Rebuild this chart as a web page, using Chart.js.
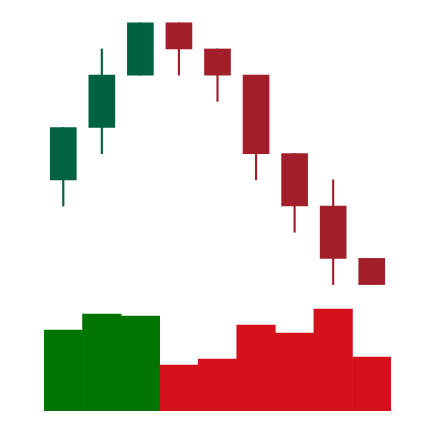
<!DOCTYPE html>
<html>
<head>
<meta charset="utf-8">
<script src="https://cdn.jsdelivr.net/npm/chart.js@4"></script>
<style>
  html, body { margin: 0; padding: 0; background: #ffffff; }
  #wrap { width: 434px; height: 422px; }
</style>
</head>
<body>
<div id="wrap"><canvas id="c" width="434" height="422"></canvas></div>
<script>
const categories = ['1', '2', '3', '4', '5', '6', '7', '8', '9'];
const openValues  = [4, 6, 8, 10, 9, 8, 5, 3, 1];
const closeValues = [6, 8, 10, 9, 8, 5, 3, 1, 0];
const highValues  = [6, 9, 10, 10, 9, 8, 5, 4, 1];
const lowValues   = [3, 5, 8, 8, 7, 4, 2, 0, 0];
const volumeValues = [81, 97, 95, 46, 52, 86, 78, 102, 54];

const upCandle = '#006241';
const downCandle = '#a21f2a';
const upVolume = '#007400';
const downVolume = '#d4111b';

const isUp = openValues.map((o, i) => closeValues[i] >= o);
const bodies = openValues.map((o, i) => [o, closeValues[i]]);
const wicks = lowValues.map((l, i) => [l, highValues[i]]);

new Chart(document.getElementById('c'), {
  type: 'bar',
  data: {
    labels: categories,
    datasets: [
      {
        label: 'body',
        data: bodies,
        yAxisID: 'price',
        grouped: false,
        barThickness: 26,
        backgroundColor: isUp.map(u => u ? upCandle : downCandle),
        borderWidth: 0,
        order: 1
      },
      {
        label: 'wick',
        data: wicks,
        yAxisID: 'price',
        grouped: false,
        barThickness: 1.5,
        backgroundColor: isUp.map(u => u ? upCandle : downCandle),
        borderWidth: 0,
        order: 2
      },
      {
        label: 'volume',
        data: volumeValues,
        yAxisID: 'vol',
        grouped: false,
        barPercentage: 1,
        categoryPercentage: 1,
        backgroundColor: isUp.map(u => u ? upVolume : downVolume),
        borderWidth: 0,
        order: 3
      }
    ]
  },
  options: {
    responsive: false,
    animation: false,
    layout: { padding: { left: 44, right: 43, top: 22, bottom: 11 } },
    plugins: { legend: { display: false }, tooltip: { enabled: false } },
    scales: {
      x: { display: false, offset: true },
      price: { display: false, min: -4.83, max: 10.03 },
      vol: { display: false, min: 0, max: 389 }
    }
  }
});
</script>
</body>
</html>
